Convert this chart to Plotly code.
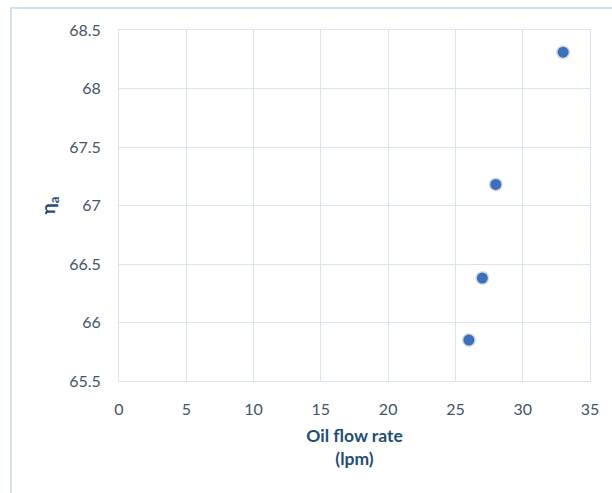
import plotly.graph_objects as go

# Oil flow rate (lpm) vs. efficiency eta_a
flow_rate = [26, 27, 28, 33]
eta_a = [65.85, 66.38, 67.18, 68.31]

x_ticks = [0, 5, 10, 15, 20, 25, 30, 35]
y_ticks = [65.5, 66, 66.5, 67, 67.5, 68, 68.5]

grid_color = "#D9E3F1"
tick_color = "#44546A"
title_color = "#1F4E79"
font_family = "Lato, Open Sans, sans-serif"

W, H = 612, 493
L, R, T, B = 119, 22, 30, 112
pw, ph = W - L - R, H - T - B

fig = go.Figure()

# soft shadow under each marker
fig.add_trace(go.Scatter(
    x=flow_rate, y=eta_a, mode="markers",
    marker=dict(size=14, color="rgba(0,0,0,0.15)", line=dict(width=0)),
    hoverinfo="skip", showlegend=False,
))
fig.add_trace(go.Scatter(
    x=flow_rate, y=eta_a, mode="markers",
    marker=dict(size=11, color="#3A70BE", line=dict(width=0)),
    showlegend=False,
))

fig.update_xaxes(
    range=[0, 35], tickvals=x_ticks, ticktext=[str(v) for v in x_ticks],
    showgrid=True, gridcolor=grid_color, gridwidth=1,
    zeroline=False, showline=True, linecolor=grid_color, mirror=True,
    ticks="", ticklabelstandoff=14,
    tickfont=dict(family=font_family, size=16, color=tick_color),
    title=dict(text="<b>Oil flow rate<br>(lpm)</b>", standoff=12,
               font=dict(family=font_family, size=17.5, color=title_color)),
)
fig.update_yaxes(
    range=[65.5, 68.5], tickvals=y_ticks, ticktext=[f"{v:g}" for v in y_ticks],
    showgrid=True, gridcolor=grid_color, gridwidth=1,
    zeroline=False, showline=True, linecolor=grid_color, mirror=True,
    ticks="", ticklabelstandoff=14,
    tickfont=dict(family=font_family, size=16, color=tick_color),
    title=dict(text="<b>η<sub>a</sub></b>", standoff=8,
               font=dict(family=font_family, size=19, color=title_color)),
)

# outer chart frame
fig.add_shape(
    type="rect", xref="paper", yref="paper",
    x0=(11 - L) / pw, x1=(W + 20 - L) / pw,
    y0=-(H + 20 - T - ph) / ph, y1=1 + (T - 8) / ph,
    line=dict(color="#C8D7EC", width=1.5), fillcolor="rgba(0,0,0,0)",
    layer="below",
)

fig.update_layout(
    width=W, height=H,
    margin=dict(l=L, r=R, t=T, b=B),
    paper_bgcolor="white", plot_bgcolor="white",
)

fig.write_html("out.html")
